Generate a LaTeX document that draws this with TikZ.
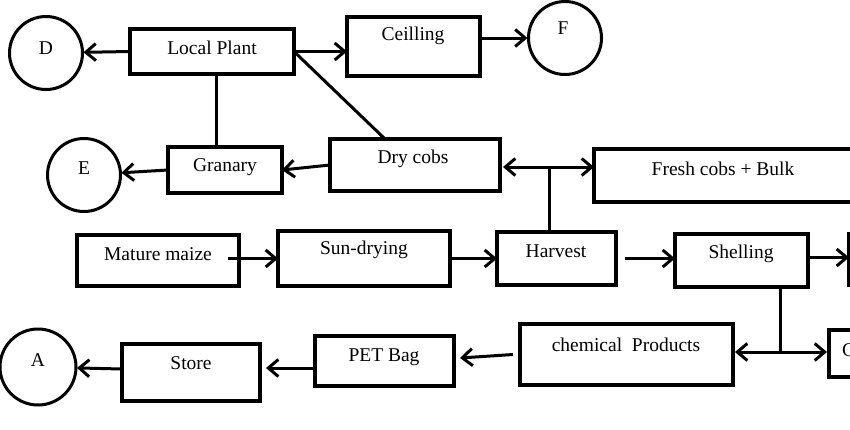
\documentclass[tikz,border=0pt]{standalone}
\usepackage{fontspec}
\setmainfont{Liberation Serif}
\usetikzlibrary{arrows.meta}
\begin{document}
\begin{tikzpicture}[x=1pt,y=-1pt,
  boxs/.style={draw,line width=4pt,rectangle,inner sep=0pt,outer sep=0pt},
  circs/.style={draw,line width=3pt,circle,inner sep=0pt,minimum size=73pt,outer sep=1pt},
  lbl/.style={inner sep=0pt,font=\fontsize{19.5}{23}\selectfont},
  conn/.style={line width=3pt},
  arr/.style={line width=3pt,-{Straight Barb[length=10pt,width=17pt,line width=3pt]}}]
\useasboundingbox (0,0) rectangle (850,429);
\clip (0,0) rectangle (850,429);
% boxes
\node[boxs,minimum width=164pt,minimum height=45pt] (LP) at (212,51.5) {};
\node[lbl] (tLP) at (212,48) {Local Plant};
\node[boxs,minimum width=133pt,minimum height=59pt] (Ceil) at (413.5,46.5) {};
\node[lbl] (tCeil) at (413,36) {Ceilling};
\node[boxs,minimum width=114pt,minimum height=46pt] (Gran) at (225,170) {};
\node[lbl] (tGran) at (225,167) {Granary};
\node[boxs,minimum width=170pt,minimum height=52pt] (Dry) at (415,165) {};
\node[lbl] (tDry) at (413,159) {Dry cobs};
\node[boxs,minimum width=276pt,minimum height=53pt] (Fresh) at (732,175.5) {};
\node[lbl] (tFresh) at (723,169) {Fresh cobs + Bulk};
\node[boxs,minimum width=162pt,minimum height=51pt] (Mat) at (158,260.5) {};
\node[lbl] (tMat) at (158,254) {Mature maize};
\node[boxs,minimum width=172pt,minimum height=55pt] (Sun) at (364,258.5) {};
\node[lbl] (tSun) at (364,250) {Sun-drying};
\node[boxs,minimum width=119pt,minimum height=53pt] (Harv) at (556.5,258.5) {};
\node[lbl] (tHarv) at (556,251) {Harvest};
\node[boxs,minimum width=133pt,minimum height=53pt] (Shell) at (741.5,260.5) {};
\node[lbl] (tShell) at (741,254) {Shelling};
\node[boxs,minimum width=150pt,minimum height=51pt] (R1) at (924,259.5) {};
\node[boxs,minimum width=213pt,minimum height=61pt] (Chem) at (626.5,354.5) {};
\node[lbl] (tChem) at (626,345) {chemical\ \ Products};
\node[boxs,minimum width=139pt,minimum height=50pt] (PET) at (384.5,361) {};
\node[lbl] (tPET) at (384,357) {PET Bag};
\node[boxs,minimum width=138pt,minimum height=57pt] (Store) at (191,372.5) {};
\node[lbl] (tStore) at (191,363) {Store};
\node[boxs,minimum width=150pt,minimum height=47pt] (Cb) at (904,353.5) {};
\node[lbl,anchor=west] (tCb) at (842,350) {C};
% circles
\node[circs] (D) at (46,53) {};
\node[lbl] (tD) at (46,48) {D};
\node[circs] (E) at (84,175) {};
\node[lbl] (tE) at (84,168) {E};
\node[circs] (F) at (565,38) {};
\node[lbl] (tF) at (563,28) {F};
\node[circs,minimum size=76pt] (A) at (38,367) {};
\node[lbl] (tA) at (38,360) {A};
% junctions
\coordinate (J1) at (549,167);
\coordinate (J2) at (780,352);
% connectors
\draw[arr] (LP.west) -- (D);
\draw[conn] ([xshift=4pt]LP.south) -- ([xshift=4pt]LP.south |- Gran.north);
\draw[arr] (LP.east) -- (LP.east -| Ceil.west);
\draw[conn] (LP.east) -- ([xshift=-30pt]Dry.north);
\draw[arr] (Ceil.east |- F.west) -- (F.west);
\draw[arr] (Gran.west) -- (E);
\draw[arr] (Dry.west) -- (Gran.east);
\draw[conn] ([xshift=-7.5pt]Harv.north) -- (J1);
\draw[arr] (J1) -- ([xshift=3pt]Dry.east |- J1);
\draw[arr] ([xshift=-1.5pt]J1) -- (Fresh.west |- J1);
\draw[arr] ([xshift=-11pt,yshift=2pt]Mat.east) -- ([yshift=2pt]Mat.east -| Sun.west);
\draw[arr] (Sun.east) -- (Sun.east -| Harv.west);
\draw[arr] ([xshift=9pt]Harv.east) -- (Harv.east -| Shell.west);
\draw[arr] ([yshift=3pt]Shell.east) -- ([yshift=3pt]Shell.east -| R1.west);
\draw[conn] ([xshift=38.5pt]Shell.south) -- (J2);
\draw[arr] (J2) -- ([xshift=2pt]Chem.east |- J2);
\draw[arr] ([xshift=-1.5pt]J2) -- ([xshift=-2pt]J2 -| Cb.west);
\draw[arr] ([xshift=-7pt]Chem.west) -- ([xshift=6pt,yshift=3pt]PET.east);
\draw[arr] ([yshift=-7pt]PET.west) -- ([xshift=6pt,yshift=-7pt]PET.west -| Store.east);
\draw[arr] ([yshift=3.5pt]Store.west) -- (A);
\end{tikzpicture}
\end{document}
